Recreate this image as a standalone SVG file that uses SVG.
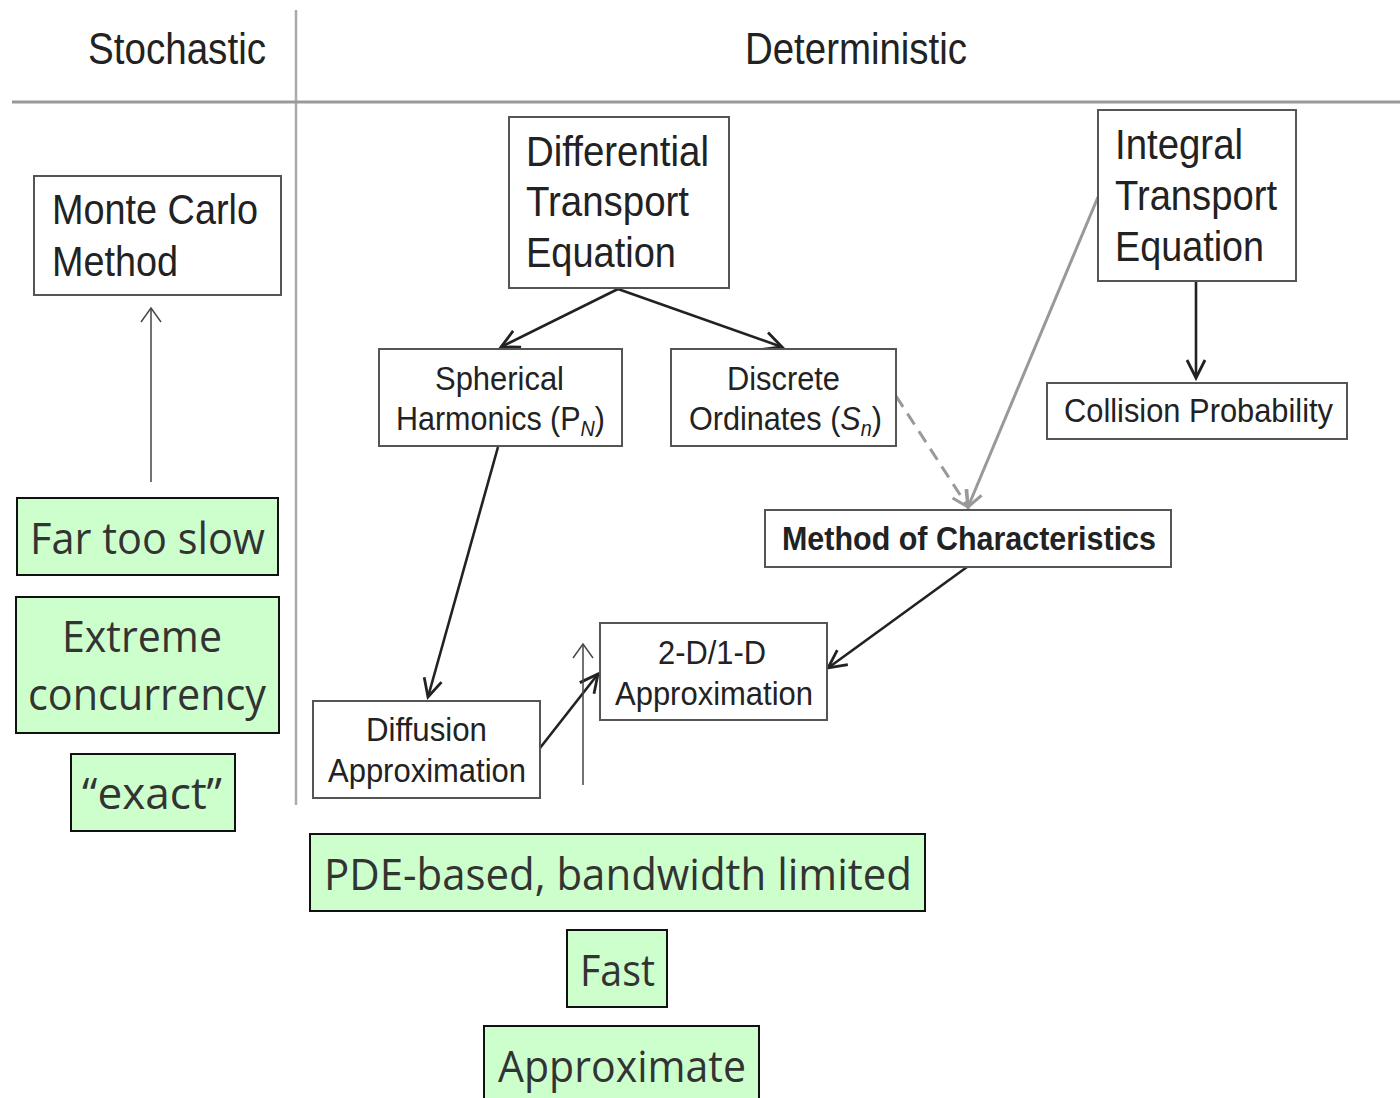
<svg xmlns="http://www.w3.org/2000/svg" width="1400" height="1098" viewBox="0 0 1400 1098">
<defs>
<marker id="ah" markerUnits="userSpaceOnUse" markerWidth="26" markerHeight="26" viewBox="0 0 26 26" refX="23" refY="13" orient="auto">
<path d="M5,4 L23,13 L5,22" fill="none" stroke="#222" stroke-width="2.8"/>
</marker>
<marker id="ahg" markerUnits="userSpaceOnUse" markerWidth="24" markerHeight="24" viewBox="0 0 24 24" refX="21" refY="12" orient="auto">
<path d="M5,4 L21,12 L5,20" fill="none" stroke="#999" stroke-width="3"/>
</marker>
<marker id="aht" markerUnits="userSpaceOnUse" markerWidth="24" markerHeight="24" viewBox="0 0 24 24" refX="20" refY="12" orient="auto">
<path d="M6,2 L20,12 L6,22" fill="none" stroke="#444" stroke-width="1.4"/>
</marker>
</defs>
<style>
.bx{fill:#fff;stroke:#555;stroke-width:2}
.gb{fill:#ccffcc;stroke:#111;stroke-width:2}
.t{font-family:"Liberation Sans",Arial,sans-serif;fill:#222}
.g{font-family:"Open Sans","Noto Sans",sans-serif;fill:#333;font-size:44px}
.c{stroke:#222;stroke-width:2.6;fill:none}
.thin{stroke:#444;stroke-width:1.5;fill:none}
</style>
<rect width="1400" height="1098" fill="#fff"/>
<g id="frame">
<line x1="296" y1="10" x2="296" y2="805" stroke="#aaa" stroke-width="2.5"/>
<line x1="12" y1="102" x2="1400" y2="102" stroke="#999" stroke-width="3"/>
<text class="t" x="88" y="64" font-size="44" textLength="178" lengthAdjust="spacingAndGlyphs">Stochastic</text>
<text class="t" x="745" y="64" font-size="44" textLength="222" lengthAdjust="spacingAndGlyphs">Deterministic</text>
</g>
<g id="connectors">
<line class="c" x1="618" y1="289" x2="501" y2="347" marker-end="url(#ah)"/>
<line class="c" x1="618" y1="289" x2="782" y2="347" marker-end="url(#ah)"/>
<line class="c" x1="498" y1="447" x2="428" y2="697" marker-end="url(#ah)"/>
<line class="c" x1="540" y1="748" x2="598" y2="674" marker-end="url(#ah)"/>
<line class="c" x1="967" y1="567" x2="828" y2="668" marker-end="url(#ah)"/>
<line class="c" x1="1196" y1="282" x2="1196" y2="378" marker-end="url(#ah)"/>
<line x1="1098" y1="197" x2="968" y2="507" stroke="#999" stroke-width="3" marker-end="url(#ahg)"/>
<line x1="896" y1="396" x2="968" y2="507" stroke="#999" stroke-width="3" stroke-dasharray="13,8" marker-end="url(#ahg)"/>
<line class="thin" x1="151" y1="482" x2="151" y2="308" marker-end="url(#aht)"/>
<line class="thin" x1="583" y1="785" x2="583" y2="644" marker-end="url(#aht)"/>
</g>
<g id="monte-carlo">
<rect class="bx" x="34" y="176" width="247" height="119"/>
<text class="t" x="52" y="224" font-size="42" textLength="206" lengthAdjust="spacingAndGlyphs">Monte Carlo</text>
<text class="t" x="52" y="276" font-size="42" textLength="126" lengthAdjust="spacingAndGlyphs">Method</text>
</g>
<g id="differential">
<rect class="bx" x="509" y="117" width="220" height="171"/>
<text class="t" x="526" y="166" font-size="42" textLength="183" lengthAdjust="spacingAndGlyphs">Differential</text>
<text class="t" x="526" y="216" font-size="42" textLength="163" lengthAdjust="spacingAndGlyphs">Transport</text>
<text class="t" x="526" y="267" font-size="42" textLength="150" lengthAdjust="spacingAndGlyphs">Equation</text>
</g>
<g id="integral">
<rect class="bx" x="1098" y="110" width="198" height="171"/>
<text class="t" x="1115" y="159" font-size="42" textLength="128" lengthAdjust="spacingAndGlyphs">Integral</text>
<text class="t" x="1115" y="210" font-size="42" textLength="162" lengthAdjust="spacingAndGlyphs">Transport</text>
<text class="t" x="1115" y="261" font-size="42" textLength="149" lengthAdjust="spacingAndGlyphs">Equation</text>
</g>
<g id="spherical">
<rect class="bx" x="379" y="349" width="243" height="97"/>
<text class="t" x="435" y="390" font-size="34" textLength="129" lengthAdjust="spacingAndGlyphs">Spherical</text>
<text class="t" x="396" y="430" font-size="34" textLength="209" lengthAdjust="spacingAndGlyphs">Harmonics (P<tspan font-size="22" font-style="italic" dy="6">N</tspan><tspan dy="-6">)</tspan></text>
</g>
<g id="discrete">
<rect class="bx" x="671" y="349" width="225" height="97"/>
<text class="t" x="727" y="390" font-size="34" textLength="113" lengthAdjust="spacingAndGlyphs">Discrete</text>
<text class="t" x="689" y="430" font-size="34" textLength="193" lengthAdjust="spacingAndGlyphs">Ordinates (<tspan font-style="italic">S</tspan><tspan font-size="22" font-style="italic" dy="6">n</tspan><tspan dy="-6">)</tspan></text>
</g>
<g id="collision">
<rect class="bx" x="1047" y="383" width="300" height="56"/>
<text class="t" x="1064" y="422" font-size="34" textLength="269" lengthAdjust="spacingAndGlyphs">Collision Probability</text>
</g>
<g id="moc">
<rect class="bx" x="765" y="510" width="406" height="57"/>
<text class="t" x="782" y="550" font-size="34" font-weight="bold" textLength="374" lengthAdjust="spacingAndGlyphs">Method of Characteristics</text>
</g>
<g id="twod">
<rect class="bx" x="600" y="623" width="227" height="97"/>
<text class="t" x="658" y="664" font-size="34" textLength="108" lengthAdjust="spacingAndGlyphs">2-D/1-D</text>
<text class="t" x="615" y="705" font-size="34" textLength="198" lengthAdjust="spacingAndGlyphs">Approximation</text>
</g>
<g id="diffusion">
<rect class="bx" x="313" y="701" width="227" height="97"/>
<text class="t" x="366" y="741" font-size="34" textLength="121" lengthAdjust="spacingAndGlyphs">Diffusion</text>
<text class="t" x="328" y="782" font-size="34" textLength="198" lengthAdjust="spacingAndGlyphs">Approximation</text>
</g>
<g id="far-too-slow">
<rect class="gb" x="17" y="498" width="261" height="77"/>
<text class="g" x="30" y="554" textLength="235" lengthAdjust="spacingAndGlyphs">Far too slow</text>
</g>
<g id="extreme">
<rect class="gb" x="16" y="597" width="263" height="136"/>
<text class="g" x="62" y="652" textLength="160" lengthAdjust="spacingAndGlyphs">Extreme</text>
<text class="g" x="28" y="710" textLength="238" lengthAdjust="spacingAndGlyphs">concurrency</text>
</g>
<g id="exact">
<rect class="gb" x="71" y="754" width="164" height="77"/>
<text class="g" x="82" y="809" textLength="140" lengthAdjust="spacingAndGlyphs">“exact”</text>
</g>
<g id="pde">
<rect class="gb" x="310" y="834" width="615" height="77"/>
<text class="g" x="324" y="890" textLength="588" lengthAdjust="spacingAndGlyphs">PDE-based, bandwidth limited</text>
</g>
<g id="fast">
<rect class="gb" x="567" y="930" width="100" height="77"/>
<text class="g" x="580" y="986" textLength="75" lengthAdjust="spacingAndGlyphs">Fast</text>
</g>
<g id="approximate">
<rect class="gb" x="484" y="1026" width="275" height="80"/>
<text class="g" x="498" y="1082" textLength="248" lengthAdjust="spacingAndGlyphs">Approximate</text>
</g>
</svg>
